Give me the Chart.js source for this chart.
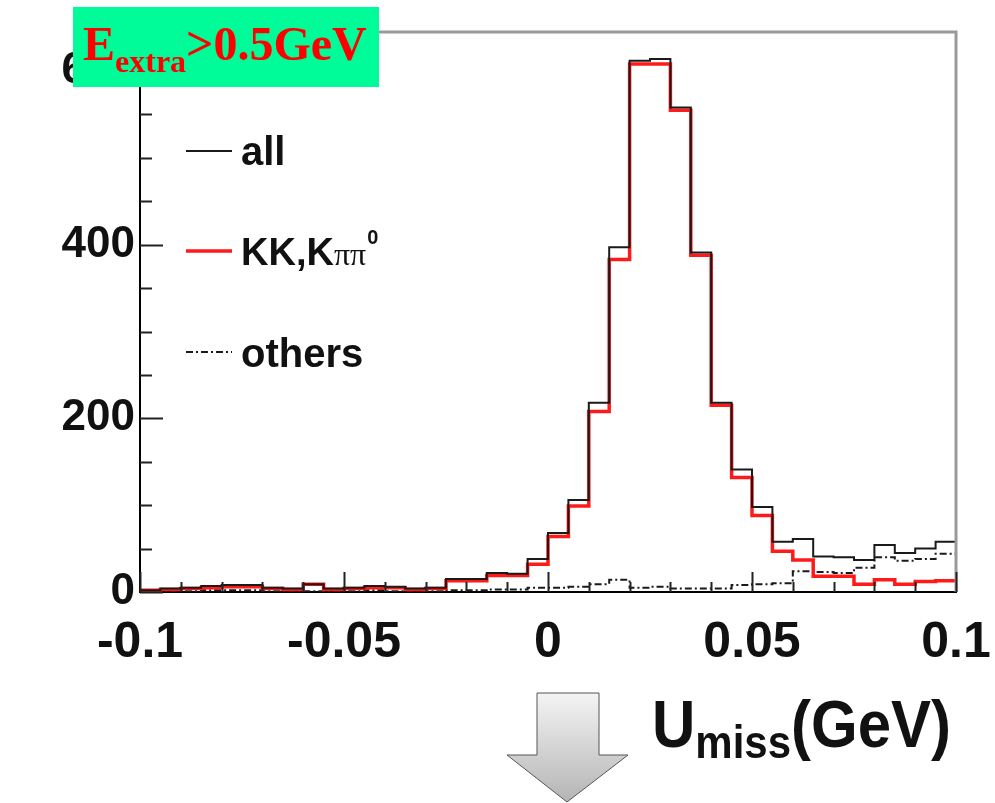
<!DOCTYPE html>
<html>
<head>
<meta charset="utf-8">
<script src="https://cdn.jsdelivr.net/npm/chart.js@4.4.1/dist/chart.umd.min.js"></script>
<style>
html, body { margin: 0; padding: 0; background: #fff; }
#wrap { width: 995px; height: 803px; }
</style>
</head>
<body>
<div id="wrap"><canvas id="umissChart" width="995" height="803"></canvas></div>
<script>
// 40 bins of 0.005 GeV from -0.1 to 0.1
const binStart = -0.1;
const binWidth = 0.005;

// counts per bin
const allCounts = [2, 4, 5, 7, 8, 8, 5, 4, 9, 4, 5, 7, 6, 4, 5,
    15, 15, 22, 21, 38, 68, 106, 218, 397, 612, 614, 558, 391, 218, 141, 98, 58, 61, 41, 40, 37, 54, 45, 50, 58];
const kkCounts = [2, 3, 4, 5, 6, 6, 4, 3, 9, 3, 4, 5, 5, 3, 4,
    13, 13, 19, 19, 32, 64, 99, 208, 383, 608, 608, 555, 388, 215, 132, 88, 47, 37, 18, 18, 9, 14, 9, 12, 13];
const otherCounts = [1, 1, 1, 2, 2, 2, 1, 1, 1, 1, 1, 2, 1, 1, 1,
    2, 2, 3, 3, 5, 5, 6, 9, 14, 5, 6, 4, 4, 4, 8, 9, 10, 24, 23, 22, 28, 40, 36, 38, 44];

const xTickLabels = ['-0.1', '-0.05', '0', '0.05', '0.1'];
const yTickLabels = ['0', '200', '400', '600'];
const legendLabels = ['all', 'KK,K', 'others'];

// turn bin counts into points at the left bin edges (+ closing point)
function histPoints(counts) {
    const pts = counts.map((c, i) => ({ x: binStart + i * binWidth, y: c }));
    pts.push({ x: binStart + counts.length * binWidth, y: counts[counts.length - 1] });
    return pts;
}

// inward ROOT-style ticks, frame, legend, labels and the arrow
const decorPlugin = {
    id: 'decor',
    afterDatasetsDraw(chart) {
        const ctx = chart.ctx;
        const area = chart.chartArea;
        const xs = chart.scales.x;
        const ys = chart.scales.y;
        ctx.save();

        // grey frame on top and right
        ctx.strokeStyle = '#9a9a9a';
        ctx.lineWidth = 3;
        ctx.beginPath();
        ctx.moveTo(area.left, area.top);
        ctx.lineTo(area.right, area.top);
        ctx.lineTo(area.right, area.bottom);
        ctx.stroke();

        // ticks
        ctx.strokeStyle = '#222';
        ctx.lineWidth = 2;
        ctx.beginPath();
        for (let v = 0; v <= ys.max; v += 50) {
            const y = Math.round(ys.getPixelForValue(v)) + 0.5;
            const len = v % 200 === 0 ? 23 : 12;
            ctx.moveTo(area.left, y);
            ctx.lineTo(area.left + len, y);
        }
        for (let k = 0; k <= 20; k++) {
            const x = Math.round(xs.getPixelForValue(-0.1 + k * 0.01)) + 0.5;
            const len = k % 5 === 0 ? 20 : 10;
            ctx.moveTo(x, area.bottom);
            ctx.lineTo(x, area.bottom - len);
        }
        ctx.stroke();

        // legend
        const ds = chart.data.datasets;
        const legendY = [151, 251, 352];
        ds.forEach((d, i) => {
            ctx.strokeStyle = d.borderColor;
            ctx.lineWidth = d.borderWidth;
            ctx.setLineDash(d.borderDash || []);
            ctx.beginPath();
            ctx.moveTo(186, legendY[i]);
            ctx.lineTo(232, legendY[i]);
            ctx.stroke();
        });
        ctx.setLineDash([]);
        ctx.fillStyle = '#111';
        ctx.textBaseline = 'alphabetic';
        ctx.textAlign = 'left';
        ctx.font = 'bold 40px "Liberation Sans", Arial, sans-serif';
        ctx.fillText(legendLabels[0], 241, legendY[0] + 14);
        ctx.fillText(legendLabels[2], 241, legendY[2] + 15);
        ctx.font = 'bold 38px "Liberation Sans", Arial, sans-serif';
        ctx.fillText(legendLabels[1], 241, legendY[1] + 14);
        let lx = 241 + ctx.measureText(legendLabels[1]).width;
        ctx.font = '32px "Liberation Serif", serif';
        ctx.fillText('\u03c0\u03c0', lx, legendY[1] + 14);
        lx += ctx.measureText('\u03c0\u03c0').width + 1;
        ctx.font = 'bold 20px "Liberation Sans", Arial, sans-serif';
        ctx.fillText('0', lx, legendY[1] - 7);

        // x axis title, slightly taller than wide like the original
        ctx.save();
        ctx.translate(652, 747);
        ctx.scale(1, 1.12);
        ctx.font = 'bold 60px "Liberation Sans", Arial, sans-serif';
        let tx = 0;
        ctx.fillText('U', tx, 0);
        tx += ctx.measureText('U').width;
        ctx.font = 'bold 42px "Liberation Sans", Arial, sans-serif';
        ctx.fillText('miss', tx, 10);
        tx += ctx.measureText('miss').width;
        ctx.font = 'bold 60px "Liberation Sans", Arial, sans-serif';
        ctx.fillText('(GeV)', tx, 0);
        ctx.restore();

        // arrow
        const grad = ctx.createLinearGradient(0, 693, 0, 803);
        grad.addColorStop(0, '#f4f4f4');
        grad.addColorStop(1, '#b4b4b4');
        ctx.fillStyle = grad;
        ctx.strokeStyle = '#555';
        ctx.lineWidth = 1;
        ctx.beginPath();
        ctx.moveTo(537, 693);
        ctx.lineTo(599, 693);
        ctx.lineTo(599, 755);
        ctx.lineTo(628, 755);
        ctx.lineTo(567, 802);
        ctx.lineTo(507, 755);
        ctx.lineTo(537, 755);
        ctx.closePath();
        ctx.fill();
        ctx.stroke();

        // green cut label box
        ctx.fillStyle = '#00fc98';
        ctx.fillRect(73, 7, 306, 80);
        ctx.fillStyle = '#ff0000';
        ctx.font = 'bold 48px "Liberation Serif", "Times New Roman", serif';
        let gx = 83;
        ctx.fillText('E', gx, 60);
        gx += ctx.measureText('E').width;
        ctx.font = 'bold 32px "Liberation Serif", "Times New Roman", serif';
        ctx.fillText('extra', gx, 72);
        gx += ctx.measureText('extra').width;
        ctx.font = 'bold 48px "Liberation Serif", "Times New Roman", serif';
        ctx.fillText('>0.5GeV', gx, 60);

        ctx.restore();
    }
};

const xTickFont = { family: '"Liberation Sans", Arial, sans-serif', size: 50, weight: 'bold' };
const yTickFont = { family: '"Liberation Sans", Arial, sans-serif', size: 44, weight: 'bold' };

new Chart(document.getElementById('umissChart').getContext('2d'), {
    type: 'line',
    data: {
        datasets: [{
            label: 'all',
            data: histPoints(allCounts),
            borderColor: '#1a1a1a',
            borderWidth: 2,
            stepped: 'before',
            pointRadius: 0,
            fill: false
        }, {
            label: 'KK,Kpipi0',
            data: histPoints(kkCounts),
            borderColor: '#ff1a1a',
            borderWidth: 3.5,
            stepped: 'before',
            pointRadius: 0,
            fill: false
        }, {
            label: 'others',
            data: histPoints(otherCounts),
            borderColor: '#1a1a1a',
            borderWidth: 2,
            borderDash: [7, 3, 2, 3],
            stepped: 'before',
            pointRadius: 0,
            fill: false
        }]
    },
    options: {
        responsive: false,
        animation: false,
        devicePixelRatio: 1,
        layout: { padding: { top: 32, right: 39, left: 0, bottom: 0 } },
        plugins: {
            legend: { display: false },
            tooltip: { enabled: false }
        },
        scales: {
            x: {
                type: 'linear',
                min: -0.1,
                max: 0.1,
                grid: { display: false, drawTicks: false },
                border: { display: true, color: '#000', width: 2 },
                ticks: {
                    stepSize: 0.05,
                    autoSkip: false,
                    maxRotation: 0,
                    padding: 21,
                    color: '#111',
                    font: xTickFont,
                    callback: (v) => xTickLabels[Math.round((v + 0.1) / 0.05)]
                },
                afterFit: (scale) => {
                    scale.height = 211;
                    scale.paddingLeft = 0;
                    scale.paddingRight = 0;
                }
            },
            y: {
                type: 'linear',
                min: 0,
                max: 645,
                grid: { display: false, drawTicks: false },
                border: { display: true, color: '#000', width: 2 },
                ticks: {
                    stepSize: 50,
                    includeBounds: false,
                    autoSkip: false,
                    padding: 5,
                    color: '#111',
                    font: yTickFont,
                    callback: (v) => v % 200 === 0 ? yTickLabels[v / 200] : ''
                },
                afterFit: (scale) => {
                    scale.width = 140;
                    scale.paddingTop = 0;
                    scale.paddingBottom = 0;
                }
            }
        }
    },
    plugins: [decorPlugin]
});
</script>
</body>
</html>
